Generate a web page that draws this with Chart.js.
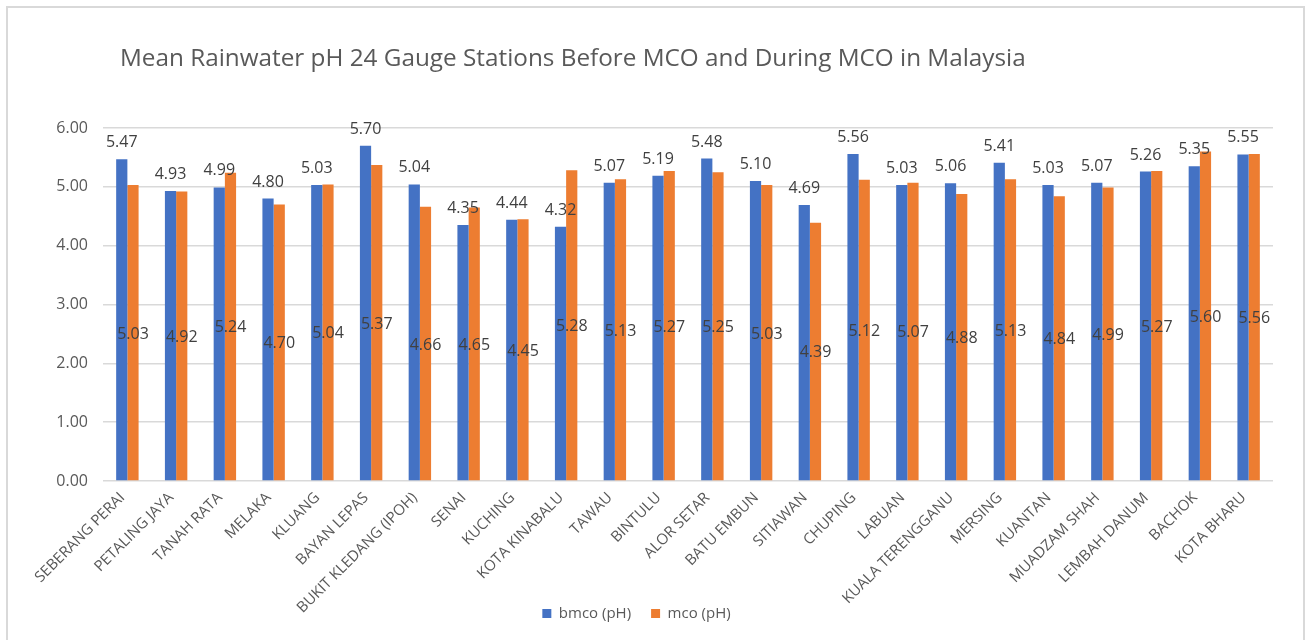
<!DOCTYPE html>
<html>
<head>
<meta charset="utf-8">
<script src="https://cdn.jsdelivr.net/npm/chart.js@4"></script>
<style>
  html, body { margin: 0; padding: 0; background: #ffffff; }
  #wrap { position: absolute; left: 0; top: 0; width: 1305px; height: 640px; }
</style>
</head>
<body>
<div id="wrap"><canvas id="c" width="1305" height="640"></canvas></div>
<script>
const chartTitle = 'Mean Rainwater pH 24 Gauge Stations Before MCO and During MCO in Malaysia';
const stations = ['SEBERANG PERAI', 'PETALING JAYA', 'TANAH RATA', 'MELAKA', 'KLUANG', 'BAYAN LEPAS',
  'BUKIT KLEDANG (IPOH)', 'SENAI', 'KUCHING', 'KOTA KINABALU', 'TAWAU', 'BINTULU', 'ALOR SETAR',
  'BATU EMBUN', 'SITIAWAN', 'CHUPING', 'LABUAN', 'KUALA TERENGGANU', 'MERSING', 'KUANTAN',
  'MUADZAM SHAH', 'LEMBAH DANUM', 'BACHOK', 'KOTA BHARU'];
const bmcoValues = [5.47, 4.93, 4.99, 4.80, 5.03, 5.70, 5.04, 4.35, 4.44, 4.32, 5.07, 5.19, 5.48,
  5.10, 4.69, 5.56, 5.03, 5.06, 5.41, 5.03, 5.07, 5.26, 5.35, 5.55];
const mcoValues = [5.03, 4.92, 5.24, 4.70, 5.04, 5.37, 4.66, 4.65, 4.45, 5.28, 5.13, 5.27, 5.25,
  5.03, 4.39, 5.12, 5.07, 4.88, 5.13, 4.84, 4.99, 5.27, 5.60, 5.56];
const seriesNames = ['bmco (pH)', 'mco (pH)'];
const yTickLabels = ['0.00', '1.00', '2.00', '3.00', '4.00', '5.00', '6.00'];

const FONT = "'Open Sans', 'Liberation Sans', sans-serif";
const BLUE = '#4472C4';
const ORANGE = '#ED7D31';

const framePlugin = {
  id: 'frame',
  beforeDraw(chart) {
    const ctx = chart.ctx;
    ctx.save();
    ctx.fillStyle = '#ffffff';
    ctx.fillRect(0, 0, chart.width, chart.height);
    ctx.strokeStyle = '#d9d9d9';
    ctx.lineWidth = 2;
    ctx.strokeRect(7, 7, 1297, 700);
    ctx.restore();
  },
  afterDraw(chart) {
    const ctx = chart.ctx;
    ctx.save();
    ctx.fillStyle = '#595959';
    ctx.font = "24.3px " + FONT;
    ctx.textAlign = 'left';
    ctx.textBaseline = 'alphabetic';
    ctx.fillText(chartTitle, 120, 66);
    ctx.restore();
  }
};

const valueLabelPlugin = {
  id: 'valueLabels',
  afterDatasetsDraw(chart) {
    const ctx = chart.ctx;
    ctx.save();
    ctx.fillStyle = '#404040';
    ctx.font = "16px " + FONT;
    ctx.textAlign = 'center';
    ctx.textBaseline = 'alphabetic';
    chart.data.datasets.forEach((ds, di) => {
      const meta = chart.getDatasetMeta(di);
      meta.data.forEach((bar, i) => {
        const txt = ds.data[i].toFixed(2);
        if (di === 0) {
          ctx.fillText(txt, bar.x, bar.y - 12);
        } else {
          ctx.fillText(txt, bar.x, (bar.y + bar.base) / 2 + 6);
        }
      });
    });
    ctx.restore();
  }
};

new Chart(document.getElementById('c'), {
  type: 'bar',
  data: {
    labels: stations,
    datasets: [
      { label: seriesNames[0], data: bmcoValues, backgroundColor: BLUE, borderWidth: 0 },
      { label: seriesNames[1], data: mcoValues, backgroundColor: ORANGE, borderWidth: 0 }
    ]
  },
  options: {
    responsive: false,
    animation: false,
    devicePixelRatio: 1,
    layout: { padding: { top: 128, left: 0, right: 32, bottom: 9 } },
    datasets: { bar: { categoryPercentage: 0.46, barPercentage: 1.0 } },
    plugins: {
      title: { display: false },
      tooltip: { enabled: false },
      legend: {
        position: 'bottom',
        labels: {
          font: { family: FONT, size: 15 },
          color: '#595959',
          boxWidth: 9,
          boxHeight: 9,
          padding: 20
        }
      }
    },
    scales: {
      x: {
        grid: { display: false, drawTicks: false },
        border: { display: false },
        ticks: {
          autoSkip: false,
          maxRotation: 45,
          minRotation: 45,
          padding: 8,
          labelOffset: -5,
          color: '#595959',
          font: { family: FONT, size: 15 }
        },
        afterFit(scale) {
          scale.height = 105;
          scale._computeLabelArea = function () { return undefined; };
        }
      },
      y: {
        min: 0,
        max: 6,
        grid: { color: '#d9d9d9', lineWidth: 1.5, drawTicks: false },
        border: { display: false },
        ticks: {
          stepSize: 1,
          padding: 15,
          color: '#595959',
          font: { family: FONT, size: 16 },
          callback: (v, i) => yTickLabels[i]
        },
        afterFit(scale) { scale.width = 103; }
      }
    }
  },
  plugins: [framePlugin, valueLabelPlugin]
});
</script>
</body>
</html>
